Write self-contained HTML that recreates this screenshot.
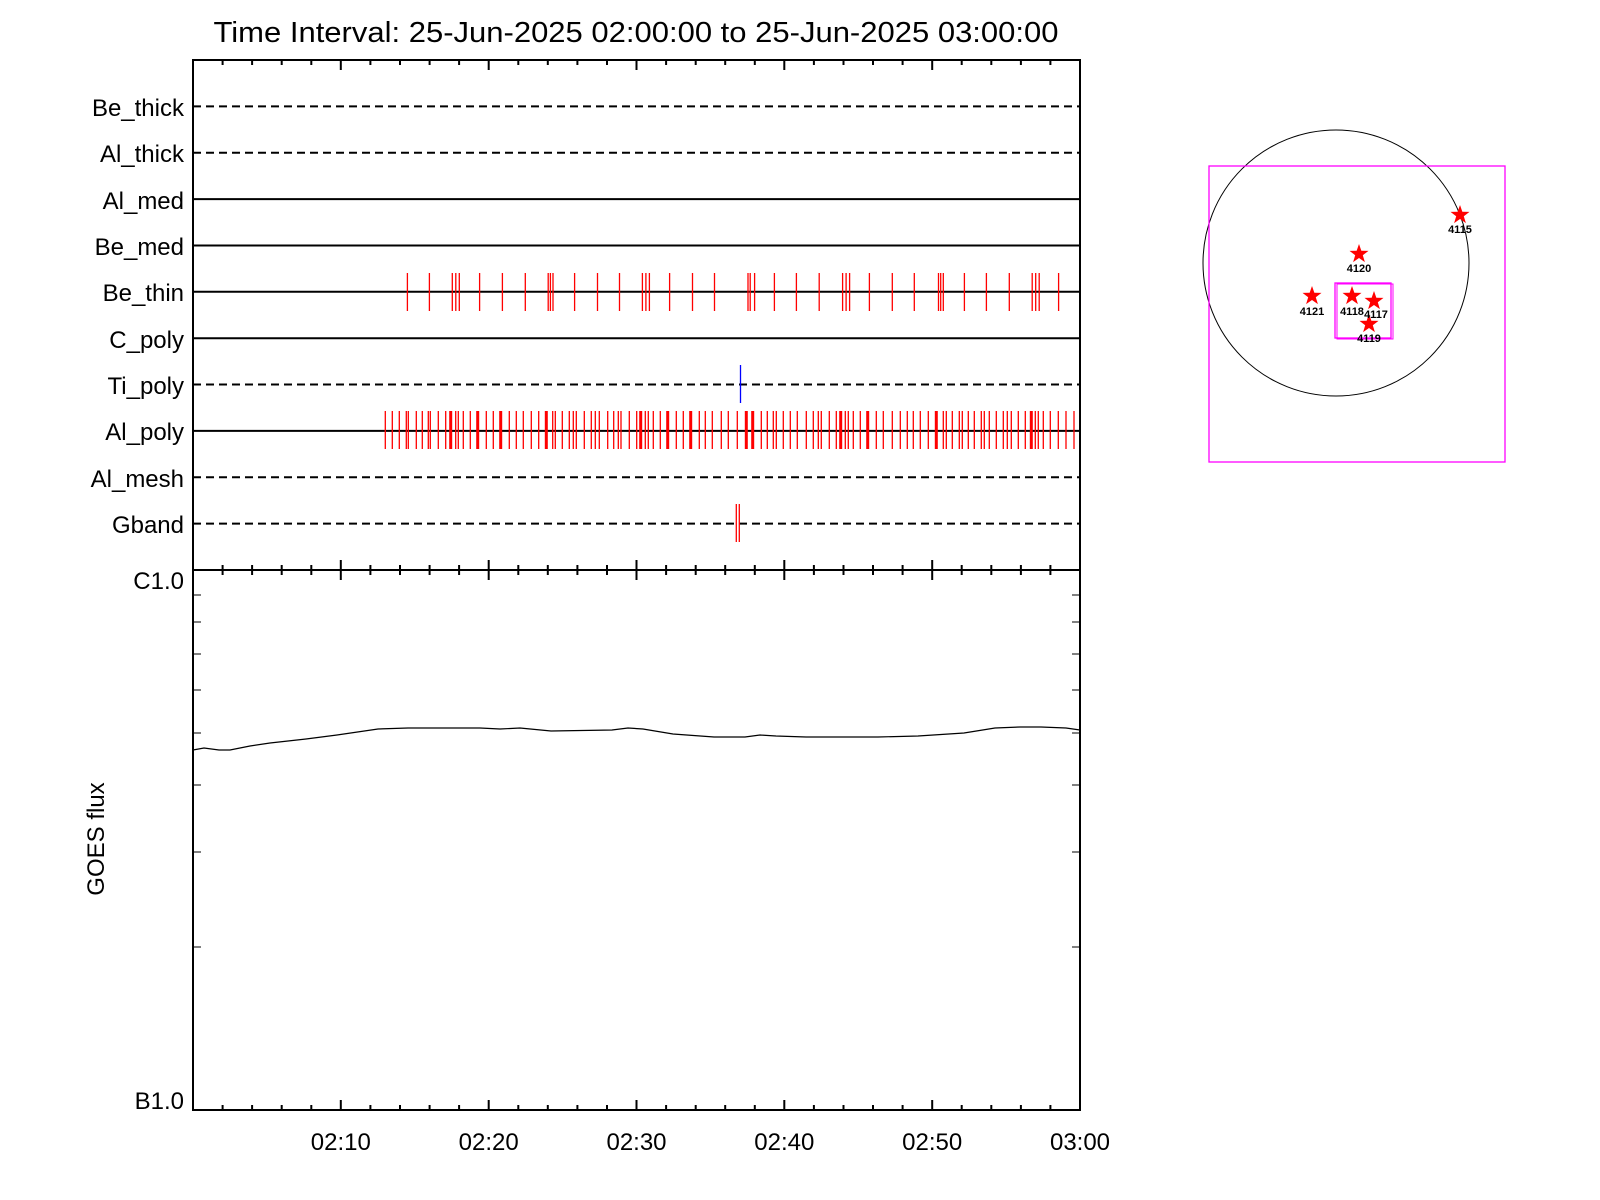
<!DOCTYPE html>
<html><head><meta charset="utf-8"><style>
html,body{margin:0;padding:0;background:#fff;}
svg{display:block;}
text{font-family:"Liberation Sans",Arial,sans-serif;fill:#000;}
</style></head><body>
<svg width="1600" height="1200" viewBox="0 0 1600 1200" xmlns="http://www.w3.org/2000/svg">
<text x="636" y="42" font-size="29" text-anchor="middle" textLength="845" lengthAdjust="spacingAndGlyphs">Time Interval: 25-Jun-2025 02:00:00 to 25-Jun-2025 03:00:00</text>

<g stroke="#000" stroke-width="2" fill="none">
<rect x="193" y="60" width="887" height="510"/>
<rect x="193" y="570" width="887" height="540"/>
</g>

<g stroke="#000" stroke-width="2" fill="none">
<path d="M193 106.4H1080" stroke-dasharray="8 5"/>
<path d="M193 152.7H1080" stroke-dasharray="8 5"/>
<path d="M193 199.1H1080"/>
<path d="M193 245.5H1080"/>
<path d="M193 291.8H1080"/>
<path d="M193 338.2H1080"/>
<path d="M193 384.5H1080" stroke-dasharray="8 5"/>
<path d="M193 430.9H1080"/>
<path d="M193 477.3H1080" stroke-dasharray="8 5"/>
<path d="M193 523.6H1080" stroke-dasharray="8 5"/>
</g>

<g font-size="24" text-anchor="end">
<text x="184" y="116">Be_thick</text>
<text x="184" y="162">Al_thick</text>
<text x="184" y="209">Al_med</text>
<text x="184" y="255">Be_med</text>
<text x="184" y="301">Be_thin</text>
<text x="184" y="348">C_poly</text>
<text x="184" y="394">Ti_poly</text>
<text x="184" y="440">Al_poly</text>
<text x="184" y="487">Al_mesh</text>
<text x="184" y="533">Gband</text>
</g>

<path stroke="#f00" stroke-width="1.3" fill="none" d="M407.4 273v38M429.4 273v38M452.3 273v38M455.8 273v38M459.3 273v38M479.6 273v38M502.4 273v38M525.3 273v38M548.2 273v38M550.4 273v38M553 273v38M574.6 273v38M597.5 273v38M619.5 273v38M642.4 273v38M645.9 273v38M649.4 273v38M669.6 273v38M692.5 273v38M714.5 273v38M748 273v38M750.2 273v38M754.6 273v38M774.4 273v38M796.4 273v38M819.2 273v38M842.6 273v38M846.1 273v38M849.6 273v38M869.4 273v38M892.3 273v38M914.3 273v38M938.5 273v38M940.7 273v38M943.3 273v38M964.4 273v38M986.4 273v38M1009.3 273v38M1032.2 273v38M1035.7 273v38M1039.2 273v38M1058.6 273v38"/>

<path stroke="#00f" stroke-width="1.3" d="M740.5 365v38"/>

<path stroke="#f00" stroke-width="1.3" fill="none" d="M385.3 411v38M392.3 411v38M399.3 411v38M406.3 411v38M408.3 411v38M416.3 411v38M422.3 411v38M428.3 411v38M430.3 411v38M438.3 411v38M445.7 411v38M455.7 411v38M458.3 411v38M463.3 411v38M470.3 411v38M486.3 411v38M493.3 411v38M509.3 411v38M516.3 411v38M523.3 411v38M531.3 411v38M538.7 411v38M552.7 411v38M555.3 411v38M562.3 411v38M569.3 411v38M573.3 411v38M576.3 411v38M584.3 411v38M591.3 411v38M595.3 411v38M599.3 411v38M607.7 411v38M613.7 411v38M618.3 411v38M621 411v38M629.3 411v38M636.7 411v38M645.3 411v38M648.3 411v38M653.3 411v38M660.3 411v38M676.3 411v38M683.3 411v38M699.3 411v38M705.3 411v38M712.3 411v38M721.3 411v38M728.3 411v38M737.3 411v38M761.3 411v38M767.3 411v38M773.3 411v38M776.3 411v38M783.3 411v38M790.3 411v38M797.3 411v38M806.3 411v38M813.3 411v38M818.3 411v38M821.3 411v38M829.3 411v38M836.3 411v38M845.3 411v38M848.3 411v38M853.3 411v38M860.3 411v38M876.3 411v38M883.3 411v38M892.3 411v38M900.3 411v38M907.3 411v38M913.3 411v38M920.3 411v38M928.3 411v38M943.3 411v38M946.3 411v38M952.3 411v38M959.3 411v38M962.3 411v38M968.3 411v38M974.3 411v38M981.3 411v38M984.3 411v38M989.3 411v38M996.3 411v38M1003.3 411v38M1007.3 411v38M1011.3 411v38M1018.3 411v38M1025.3 411v38M1035.3 411v38M1038.3 411v38M1043.3 411v38M1050.3 411v38M1058.3 411v38M1066 411v38M1074 411v38"/>
<path stroke="#f00" stroke-width="3" fill="none" d="M450.7 411v38M477.7 411v38M500.7 411v38M546.3 411v38M640.7 411v38M667.7 411v38M690.7 411v38M746.3 411v38M752.7 411v38M840.7 411v38M867.7 411v38M936.3 411v38M1031.3 411v38"/>

<path stroke="#f00" stroke-width="1.3" d="M736.3 504v38M739.3 504v38"/>

<g stroke="#000" stroke-width="2" fill="none">
<path d="M222.6 60v5M252.1 60v5M281.7 60v5M311.3 60v5M340.8 60v10M370.4 60v5M400 60v5M429.6 60v5M459.1 60v5M488.7 60v10M518.3 60v5M547.8 60v5M577.4 60v5M607 60v5M636.5 60v10M666.1 60v5M695.7 60v5M725.2 60v5M754.8 60v5M784.3 60v10M813.9 60v5M843.5 60v5M873 60v5M902.6 60v5M932.2 60v10M961.7 60v5M991.3 60v5M1020.9 60v5M1050.4 60v5"/>
<path d="M222.6 565v10M252.1 565v10M281.7 565v10M311.3 565v10M340.8 560v20M370.4 565v10M400 565v10M429.6 565v10M459.1 565v10M488.7 560v20M518.3 565v10M547.8 565v10M577.4 565v10M607 565v10M636.5 560v20M666.1 565v10M695.7 565v10M725.2 565v10M754.8 565v10M784.3 560v20M813.9 565v10M843.5 565v10M873 565v10M902.6 565v10M932.2 560v20M961.7 565v10M991.3 565v10M1020.9 565v10M1050.4 565v10M1080 560v20"/>
<path d="M222.6 1110v-5M252.1 1110v-5M281.7 1110v-5M311.3 1110v-5M340.8 1110v-10M370.4 1110v-5M400 1110v-5M429.6 1110v-5M459.1 1110v-5M488.7 1110v-10M518.3 1110v-5M547.8 1110v-5M577.4 1110v-5M607 1110v-5M636.5 1110v-10M666.1 1110v-5M695.7 1110v-5M725.2 1110v-5M754.8 1110v-5M784.3 1110v-10M813.9 1110v-5M843.5 1110v-5M873 1110v-5M902.6 1110v-5M932.2 1110v-10M961.7 1110v-5M991.3 1110v-5M1020.9 1110v-5M1050.4 1110v-5"/>
<path stroke-width="1" d="M193 595H201M193 622H201M193 654H201M193 690H201M193 733H201M193 785H201M193 852H201M193 947H201M1080 595H1072M1080 622H1072M1080 654H1072M1080 690H1072M1080 733H1072M1080 785H1072M1080 852H1072M1080 947H1072"/>
</g>

<polyline fill="none" stroke="#000" stroke-width="1.2" points="193,750 204,748 219,750 230,750 250,746 270,743 306,739 337,735 378,729 408,728 480,728 500,729 520,728 551,731 612,730 628,728 643,729 673,734 714,737 745,737 760,735 776,736 806,737 837,737 878,737 918,736 964,733 995,728 1020,727 1041,727 1066,728 1080,730"/>

<g font-size="24">
<text x="184" y="589" text-anchor="end">C1.0</text>
<text x="184" y="1109" text-anchor="end">B1.0</text>
<text x="340.8" y="1150" text-anchor="middle">02:10</text>
<text x="488.7" y="1150" text-anchor="middle">02:20</text>
<text x="636.5" y="1150" text-anchor="middle">02:30</text>
<text x="784.3" y="1150" text-anchor="middle">02:40</text>
<text x="932.2" y="1150" text-anchor="middle">02:50</text>
<text x="1080" y="1150" text-anchor="middle">03:00</text>
<text transform="translate(104,839) rotate(-90)" text-anchor="middle">GOES flux</text>
</g>

<circle cx="1336" cy="263" r="133" fill="none" stroke="#000" stroke-width="1"/>
<rect x="1209" y="166" width="296" height="296" fill="none" stroke="#f0f" stroke-width="1.3"/>
<rect x="1335" y="283" width="56" height="55" fill="none" stroke="#f0f" stroke-width="1.3"/>
<rect x="1337" y="284" width="56" height="55" fill="none" stroke="#f0f" stroke-width="1"/>
<defs><path id="st" d="M0,-10 L2.35,-3.2 9.5,-3.1 3.8,1.2 5.9,8.1 0,4 -5.9,8.1 -3.8,1.2 -9.5,-3.1 -2.35,-3.2Z" fill="#f00"/></defs>
<use href="#st" x="1460" y="215"/>
<use href="#st" x="1359" y="254"/>
<use href="#st" x="1312" y="296"/>
<use href="#st" x="1352" y="296"/>
<use href="#st" x="1374" y="301"/>
<use href="#st" x="1369" y="324"/>
<g font-size="11" text-anchor="middle" font-weight="bold">
<text x="1460" y="233">4115</text>
<text x="1359" y="272">4120</text>
<text x="1312" y="315">4121</text>
<text x="1352" y="315">4118</text>
<text x="1376" y="318">4117</text>
<text x="1369" y="342">4119</text>
</g>
</svg>
</body></html>
